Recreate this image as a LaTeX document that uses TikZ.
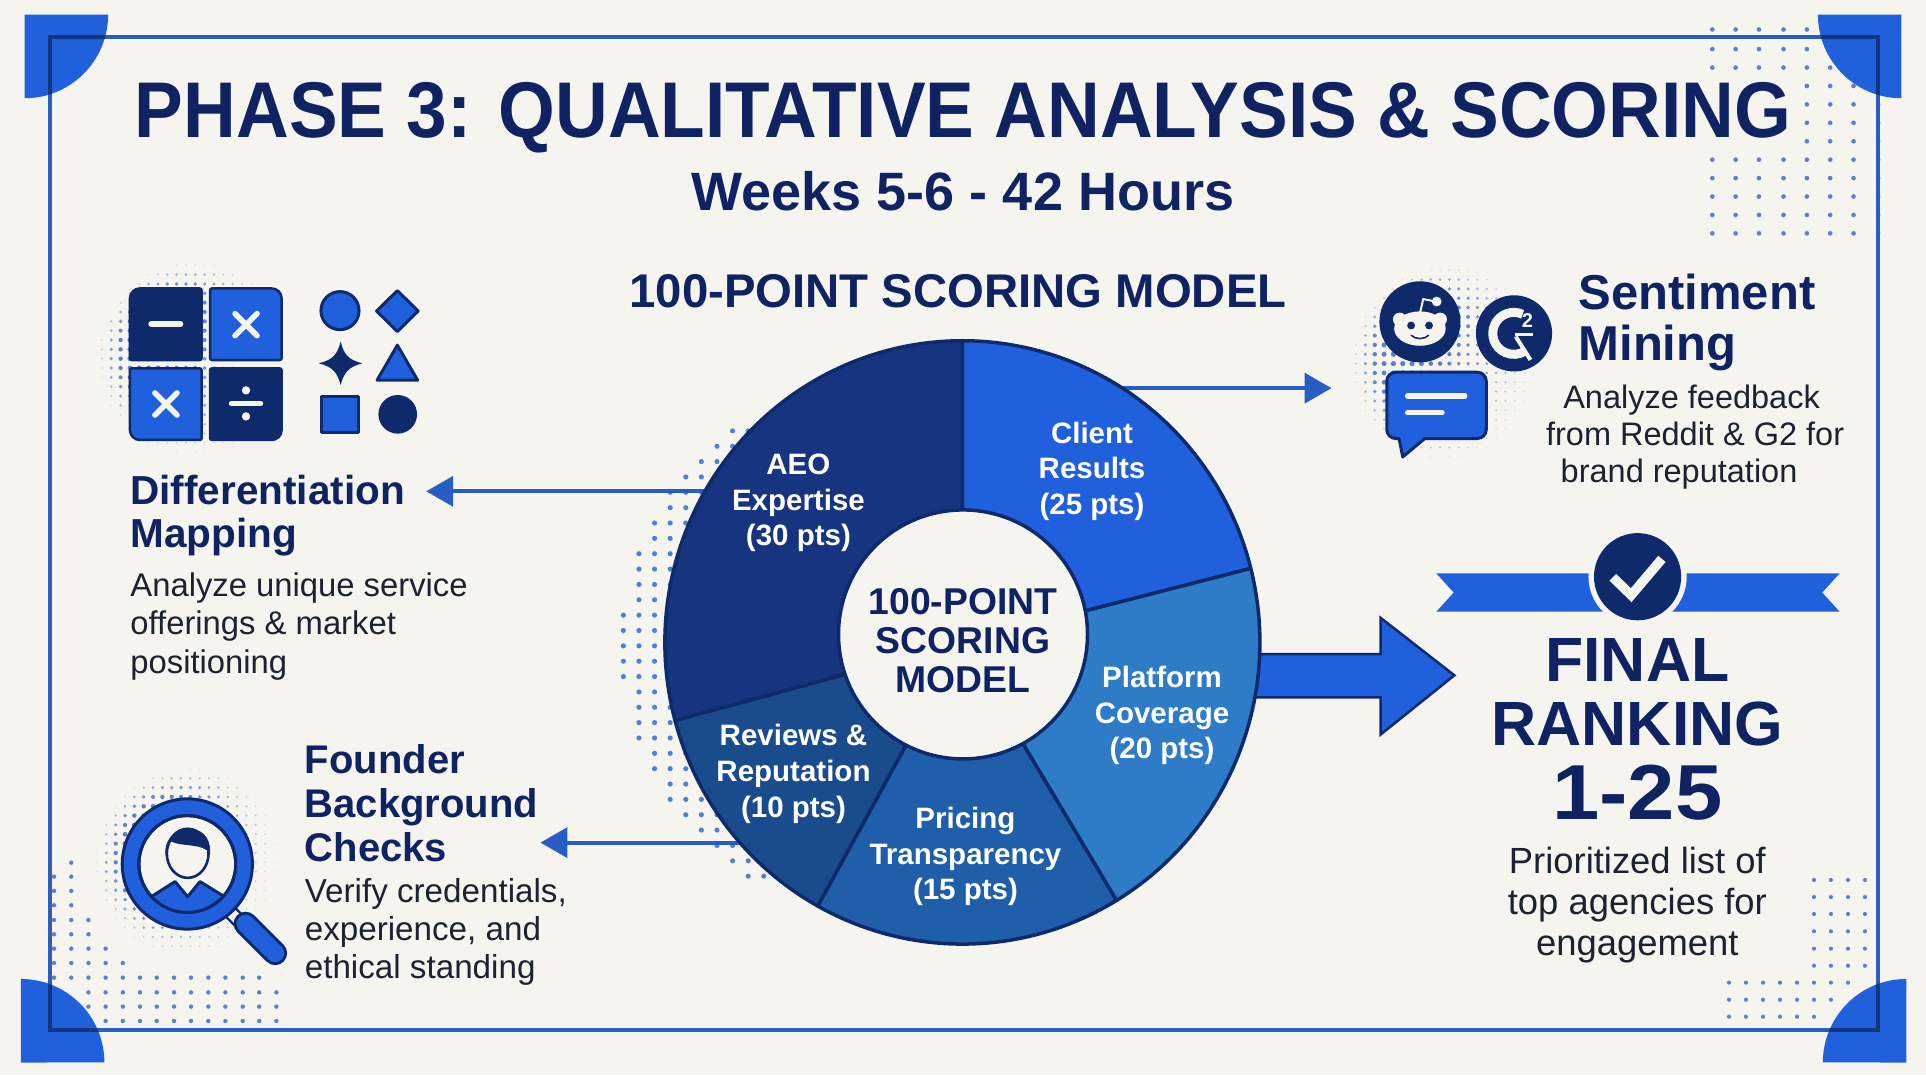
\documentclass[tikz,border=0pt]{standalone}
\usepackage{graphicx}
\usepackage{fontspec}
\setmainfont{Liberation Sans}
\usetikzlibrary{arrows.meta}
\definecolor{bgc}{HTML}{F5F4EF}
\definecolor{navy}{HTML}{0F2363}
\definecolor{ink}{HTML}{0F2A6B}
\definecolor{txt}{HTML}{1C2230}
\definecolor{royal}{HTML}{2060DC}
\definecolor{framec}{HTML}{2A5CC2}
\definecolor{framedk}{HTML}{14357F}
\definecolor{dotc}{HTML}{5F80C6}
\definecolor{dotb}{HTML}{4F7FD8}
\definecolor{segA}{HTML}{16347F}
\definecolor{segB}{HTML}{2060DC}
\definecolor{segC}{HTML}{2E7BC8}
\definecolor{segD}{HTML}{1F5EA8}
\definecolor{segE}{HTML}{1A4B8C}
\newcommand{\fsz}[2]{\fontsize{#1}{#2}\selectfont}
\newcommand{\halftone}[3]{% cx cy R
  \foreach \i in {-11,...,11}{\foreach \j in {-11,...,11}{%
    \pgfmathsetmacro{\dxx}{\i*7.6}\pgfmathsetmacro{\dyy}{\j*7.6}%
    \pgfmathsetmacro{\dd}{sqrt(\dxx*\dxx+\dyy*\dyy)/#3}%
    \ifdim\dd pt<1pt
      \pgfmathsetmacro{\wgt}{max(0,(1-\dd*\dd*\dd*\dd)*(0.62-0.5*\dxx/#3-0.2*\dyy/#3))}%
      \pgfmathsetmacro{\rad}{0.35+2.2*\wgt}%
      \pgfmathsetmacro{\opa}{min(1,0.14+1.3*\wgt)}%
      \fill[dotc,opacity=\opa] (#1+\dxx,#2+\dyy) circle[radius=\rad];
    \fi}}}
\newcommand{\tile}[6]{% x0 y0 x1 y1 corner-style
  \draw[#6,rounded corners=2pt] (#1+20,#2)
    [rounded corners={\ifnum#5=2 10pt\else 2pt\fi}] -- (#3,#2)
    [rounded corners={\ifnum#5=3 10pt\else 2pt\fi}] -- (#3,#4)
    [rounded corners={\ifnum#5=4 10pt\else 2pt\fi}] -- (#1,#4)
    [rounded corners={\ifnum#5=1 10pt\else 2pt\fi}] -- (#1,#2) -- cycle;}
\tikzset{
  ttl/.style={inner sep=0pt,text=navy,font=\bfseries},
  body/.style={inner sep=0pt,text=txt},
  seglabel/.style={inner sep=0pt,text=white,align=center,font=\bfseries\fsz{29.5}{35.6}},
  seg/.style={draw=ink,line width=3.5pt,line join=round},
  dot/.style={fill=dotc},
  thinarrow/.style={draw=framec!85!royal,line width=4pt,-{Triangle[length=27pt,width=30pt]}},
  darktile/.style={fill=ink,draw=ink,line width=2.5pt},
  bluetile/.style={fill=royal,draw=ink,line width=2.5pt},
  whitestroke/.style={draw=bgc,line width=5.5pt,line cap=round},
  iconblue/.style={fill=royal,draw=ink,line width=3pt,line join=round},
  icondark/.style={fill=ink,draw=ink,line width=3pt,line join=round},
}
\begin{document}
\begin{tikzpicture}[x=1.22832pt,y=-1.22832pt]
\useasboundingbox (0,0) rectangle (1568,875.2);
\fill[bgc] (0,0) rectangle (1568,875.2);

% corner dot fields
\foreach \x in {1394,1413,1432,1452,1471}{\foreach \y in {24,40,55}{\fill[dot] (\x,\y) circle[radius=1.9];}}
\fill[dot] (1490,55) circle[radius=1.9];
\foreach \x in {1471,1490,1509}{\foreach \y in {70,85,100,115}{\fill[dot] (\x,\y) circle[radius=1.9];}}
\foreach \x in {1394,1413,1432,1452,1471,1490,1509}{\foreach \y in {130,145,160,175,190}{\fill[dot] (\x,\y) circle[radius=1.9];}}
\foreach \y in {85,100,115,130,145,160,175,190}{\fill[dot] (1529,\y) circle[radius=1.9];}

\foreach \x/\l in {58/702.3,44/713.7,58/713.7,44/725.3,58/725.3,44/737,58/737,44/749,58/749,72/749,44/760.6,58/760.6,72/760.6,44/772.3,58/772.3,72/772.3,86/772.3,44/784,58/784,72/784,86/784,100/784}{\fill[dot] (\x,\l) circle[radius=1.8];}
\foreach \x in {44,58,72,86,100,114,127.6,141.7,155.5,169.6,183.5,197.6,211}{\fill[dot] (\x,795.9) circle[radius=1.8];}
\foreach \x in {72,86,100,114,127.6,141.7,155.5,169.6,183.5,197.6,211,225}{\fill[dot] (\x,807.9) circle[radius=1.8]; \fill[dot] (\x,819.5) circle[radius=1.8];}
\foreach \x in {86,100,114,127.6,141.7,155.5,169.6,183.5,197.6,211,225}{\fill[dot] (\x,831.2) circle[radius=1.8];}

\foreach \x in {1476.8,1490.6,1504.5,1518.3}{\foreach \y in {716.4,730.3,744.1,758.2,772.3,786.2}{\fill[dot] (\x,\y) circle[radius=1.7];}}
\foreach \x in {1407.6,1421.4,1435.3,1449.1,1463,1476.8,1490.6,1504.5}{\fill[dot] (\x,800) circle[radius=1.7];}
\foreach \x in {1407.6,1421.4,1435.3,1449.1,1463,1476.8,1490.6}{\fill[dot] (\x,813.9) circle[radius=1.7];}
\foreach \x in {1407.6,1421.4,1435.3,1449.1,1463,1476.8}{\fill[dot] (\x,827.7) circle[radius=1.7];}

% corners
\def\cTL{(20,12) -- (88,12) arc[start angle=0,end angle=-90,radius=83.5pt] -- cycle}
\def\cTR{(1548,12) -- (1480,12) arc[start angle=180,end angle=270,radius=83.5pt] -- cycle}
\def\cBL{(17,865) -- (17,797) arc[start angle=90,end angle=0,radius=83.5pt] -- cycle}
\def\cBR{(1552,865) -- (1552,797) arc[start angle=90,end angle=180,radius=83.5pt] -- cycle}
\fill[royal] \cTL; \fill[royal] \cTR; \fill[royal] \cBL; \fill[royal] \cBR;
\draw[framec,line width=4pt] (40.5,30) rectangle (1528.5,838.5);
\foreach \c in {\cTL,\cTR,\cBL,\cBR}{
  \begin{scope}\clip \c; \draw[framedk,line width=4pt] (40.5,30) rectangle (1528.5,838.5);\end{scope}}

% halftones
\halftone{159}{292}{80}
\halftone{1180}{296}{80}
\halftone{155}{702}{78}

% dots left of pie
\foreach \row/\st in {0/7,1/6,2/5,3/4,4/3,5/3,6/2,7/2,8/1,9/1,10/1,11/1,12/0,13/0,14/0,15/0,16/0,17/1,18/1,19/1,20/1,21/2,22/2,23/3,24/3,25/4,26/5,27/6,28/7,29/8}{
  \foreach \cc in {\st,...,9}{
    \pgfmathsetmacro{\px}{507.5+12.7*\cc}\pgfmathsetmacro{\py}{350.8+12.5*\row}
    \fill[dotb] (\px,\py) circle[radius=2.1];}}

% connectors
\coordinate (sentA) at (880,316);
\coordinate (sentB) at (1084,316);
\coordinate (diffA) at (600,400);
\coordinate (diffB) at (347,400);
\coordinate (foundA) at (620,686);
\coordinate (foundB) at (440,686);
\draw[thinarrow] (sentA) -- (sentB);
\draw[thinarrow] (diffA) -- (diffB);
\draw[thinarrow] (foundA) -- (foundB);
\draw[fill=royal,draw=ink,line width=2.5pt,line join=miter] (1000,532.6) -- (1124,532.6) -- (1124,503) -- (1184,549.8) -- (1124,598) -- (1124,567.8) -- (1000,567.8) -- cycle;

% pie
\def\pr{297.5pt}
\begin{scope}[shift={(783.5,523)},yscale=1.014]
\draw[seg,fill=segB] (0,0) -- (90:\pr) arc[start angle=90,end angle=14.2,radius=\pr] -- cycle;
\draw[seg,fill=segC] (0,0) -- (14.2:\pr) arc[start angle=14.2,end angle=-58.8,radius=\pr] -- cycle;
\draw[seg,fill=segD] (0,0) -- (-58.8:\pr) arc[start angle=-58.8,end angle=-119.1,radius=\pr] -- cycle;
\draw[seg,fill=segE] (0,0) -- (-119.1:\pr) arc[start angle=-119.1,end angle=-165,radius=\pr] -- cycle;
\draw[seg,fill=segA] (0,0) -- (-165:\pr) arc[start angle=-165,end angle=-270,radius=\pr] -- cycle;
\end{scope}
\node[circle,fill=bgc,draw=ink,line width=3.5pt,minimum size=249pt,inner sep=0pt] (hub) at (784,516.5) {};
\node[ttl,align=center,font=\bfseries\fsz{37.3}{39.3}] (hubtext) at (784,521.5) {100-POINT\\SCORING\\MODEL};
\node[seglabel] (s1) at (889,383.5) {Client\\Results\\(25 pts)};
\node[seglabel] (s2) at (946,582.5) {Platform\\Coverage\\(20 pts)};
\node[seglabel] (s3) at (786,697.5) {Pricing\\Transparency\\(15 pts)};
\node[seglabel] (s4) at (646,630) {Reviews \&\\Reputation\\(10 pts)};
\node[seglabel] (s5) at (650,409.5) {AEO\\Expertise\\(30 pts)};

% calculator tiles
\tile{105.8}{234.8}{164.2}{293.1}{1}{darktile}
\tile{171}{234.8}{229.3}{293.1}{2}{bluetile}
\tile{105.8}{299.9}{164.2}{358.2}{4}{bluetile}
\tile{171}{299.9}{229.3}{358.2}{3}{darktile}
\draw[whitestroke] (123,263.8) -- (147,263.8);
\draw[whitestroke] (191.3,255.3) -- (209.3,273.3);
\draw[whitestroke] (191.3,273.3) -- (209.3,255.3);
\draw[whitestroke] (126.1,319.9) -- (144.1,337.9);
\draw[whitestroke] (126.1,337.9) -- (144.1,319.9);
\draw[whitestroke] (188.5,328.4) -- (212.1,328.4);
\fill[bgc] (200.3,317.8) circle[radius=3.4]; \fill[bgc] (200.3,339) circle[radius=3.4];

% small shapes
\draw[iconblue] (276.8,252.9) circle[radius=15.5];
\draw[iconblue] (323.5,236.6) -- (340.4,253.2) -- (323.5,270) -- (306.6,253.2) -- cycle;
\fill[ink] (277.3,278) .. controls (280,289) and (284,293) .. (295,295.8) .. controls (284,298.6) and (280,303) .. (277.3,313.5) .. controls (274.6,303) and (270.6,298.6) .. (259.6,295.8) .. controls (270.6,293) and (274.6,289) .. (277.3,278) -- cycle;
\draw[iconblue] (323.5,281) -- (340,309.5) -- (307,309.5) -- cycle;
\draw[iconblue] (261.8,322.8) rectangle (292,352);
\draw[icondark] (323.8,337.3) circle[radius=14.5];

% reddit
\fill[ink] (1156,262) circle[radius=33];
\draw[bgc,line width=2pt] (1156,255) -- (1158.7,243.5) -- (1169,245.5);
\fill[bgc] (1169.6,245.5) circle[radius=4];
\fill[bgc] (1139.5,260) circle[radius=5.5];
\fill[bgc] (1172.5,260) circle[radius=5.5];
\fill[bgc] (1156,267.5) ellipse[x radius=21,y radius=14];
\fill[ink] (1148.8,265) circle[radius=3.2];
\fill[ink] (1163.4,265) circle[radius=3.2];
\draw[ink,line width=1.6pt,line cap=round] (1149,273) .. controls (1152,276.5) and (1160,276.5) .. (1163,273);

% G2
\fill[ink] (1232.6,271.4) circle[radius=31];
\draw[bgc,line width=9pt] (1232.4,271.4) ++(65:21pt) arc[start angle=65,end angle=305,radius=21pt];
\draw[bgc,line width=3pt] (1233,272) -- (1248,272);
\draw[bgc,line width=4pt] (1234,274) -- (1246,293);
\node[inner sep=0pt,text=bgc,font=\bfseries\fsz{20}{20}] (gtwo) at (1243.5,261) {2};

% chat
\draw[iconblue] (1170,303) [rounded corners=9pt] -- (1210,303) -- (1210,357) [sharp corners] -- (1160,357) -- (1142,372) -- (1139,357) [rounded corners=9pt] -- (1129,357) -- (1129,303) -- cycle;
\draw[bgc,line width=5.5pt,line cap=round] (1146,322.4) -- (1192.5,322.4);
\draw[bgc,line width=5.5pt,line cap=round] (1146,336) -- (1174,336);

% magnifier
\draw[line width=15pt,draw=ink] (185,740) -- (200,755);
\draw[line width=10pt,draw=bgc] (186,741) -- (199,754);
\draw[ink,line width=24pt,line cap=round] (200,752) -- (224,776);
\draw[royal,line width=18pt,line cap=round] (200,752) -- (224,776);
\draw[iconblue] (152.5,703.4) circle[radius=53];
\draw[fill=bgc,draw=ink,line width=3pt] (152.5,703.4) circle[radius=39.4];
\begin{scope}
  \clip (152.5,703.4) circle[radius=39.4];
  \draw[iconblue] (120,732) -- (142.5,717.7) -- (152.8,730) -- (162.8,717.7) -- (186,732) -- (186,750) -- (120,750) -- cycle;
\end{scope}
\draw[fill=bgc,draw=ink,line width=2.6pt] (152.8,694.7) ellipse[x radius=17,y radius=20];
\fill[ink] (135,697) .. controls (130,672) and (173,664) .. (171,695) .. controls (165,686) and (150,690) .. (139,685) -- cycle;
\draw[ink,line width=3pt] (152.5,703.4) circle[radius=39.4];

% ribbon
\fill[royal] (1169.3,466.8) -- (1310,466.8) -- (1310,498) -- (1169.3,498) -- (1183.5,482.4) -- cycle;
\fill[royal] (1497.7,466.8) -- (1356,466.8) -- (1356,498) -- (1497.7,498) -- (1483.5,482.4) -- cycle;
\fill[bgc] (1333.2,469.5) circle[radius=40];
\fill[ink] (1333.2,469.5) circle[radius=35.5];
\draw[bgc,line width=9.5pt] (1313,470) -- (1328,484.5) -- (1353,455);

% texts
\node[ttl,font=\bfseries\fsz{79}{79}] (title) at (784,95.5) {\scalebox{.924}[1]{PHASE 3: QUALITATIVE ANALYSIS \& SCORING}};
\node[ttl,font=\bfseries\fsz{54}{54}] (sub) at (784,156) {Weeks 5-6 - 42 Hours};
\node[ttl,font=\bfseries\fsz{47.3}{47.3}] (model) at (780,237) {100-POINT SCORING MODEL};
\node[ttl,anchor=west,align=left,font=\bfseries\fsz{40.5}{43}] (diffh) at (106,419.5) {Differentiation\\Mapping};
\node[body,anchor=west,align=left,font=\fsz{32.8}{38.7}] (diffb) at (106,510) {Analyze unique service\\offerings \& market\\positioning};
\node[ttl,anchor=west,align=left,font=\bfseries\fsz{40}{44}] (fndh) at (248,653.5) {Founder\\Background\\Checks};
\node[body,anchor=west,align=left,font=\fsz{33.2}{38}] (fndb) at (248,759) {Verify credentials,\\experience, and\\ethical standing};
\node[ttl,anchor=west,align=left,font=\bfseries\fsz{49}{51.5}] (senth) at (1285,262.5) {Sentiment\\Mining};
\node[body,align=center,font=\fsz{32.5}{37}] (sentb) at (1380,356) {Analyze feedback\hspace*{7pt}\\from Reddit \& G2 for\\brand reputation\hspace*{32pt}};
\node[ttl,align=center,font=\bfseries\fsz{62.5}{64}] (fin) at (1333,564) {FINAL\\RANKING};
\node[ttl,font=\bfseries\fsz{78}{78}] (rank) at (1333,645) {\scalebox{1.09}[1]{1-25}};
\node[body,align=center,font=\fsz{36.4}{41}] (prio) at (1333,737) {Prioritized list of\\top agencies for\\engagement};
\end{tikzpicture}
\end{document}
